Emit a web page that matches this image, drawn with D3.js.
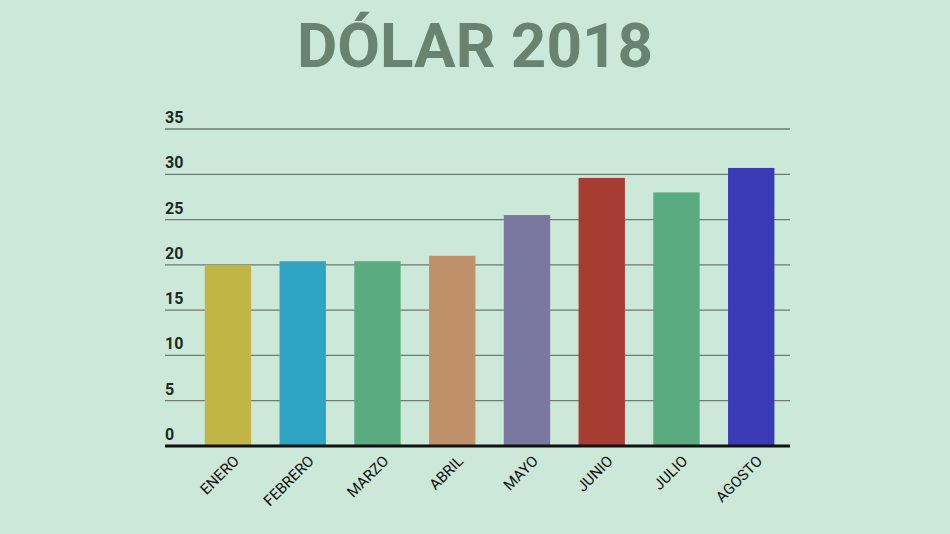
<!DOCTYPE html>
<html><head><meta charset="utf-8">
<script src="https://cdn.jsdelivr.net/npm/d3@7/dist/d3.min.js"></script>
<style>body{margin:0;background:#cce8d8;}svg{display:block}</style>
</head><body>
<script>
const months = ["ENERO","FEBRERO","MARZO","ABRIL","MAYO","JUNIO","JULIO","AGOSTO"];
const values = [20.0,20.4,20.4,21.0,25.5,29.6,28.0,30.7];
const colors = ["#c0b545","#2ea3c2","#5bab80","#c0906a","#7a78a0","#a63c32","#5bab80","#3b3ab7"];
const ticks = [0,5,10,15,20,25,30,35];

const svg = d3.select("body").append("svg").attr("width",950).attr("height",534);
svg.append("rect").attr("width",950).attr("height",534).attr("fill","#cce8d8");
svg.append("text").attr("x",475).attr("y",67).attr("text-anchor","middle")
  .attr("font-family","Roboto").attr("font-weight","bold").attr("font-size",62)
  .attr("fill","#6a8270").text("DÓLAR 2018");

const x = d3.scaleBand().domain(months).range([190.6,788.6]).paddingInner(0.38).paddingOuter(0.19);
const y = d3.scaleLinear().domain([0,35]).range([446,129]);

const g = svg.append("g");
g.selectAll("line.grid").data(ticks.slice(1)).join("line")
  .attr("x1",165).attr("x2",790).attr("y1",d=>y(d)).attr("y2",d=>y(d))
  .attr("stroke","#6b7b70").attr("stroke-width",1.3);
g.selectAll("text.tick").data(ticks).join("text")
  .attr("x",165).attr("y",d=>y(d)-6)
  .attr("font-family","Roboto").attr("font-weight","bold").attr("font-size",16)
  .attr("fill","#1a2a20").text(d=>d);

g.selectAll("rect.bar").data(values).join("rect")
  .attr("x",(d,i)=>x(months[i])).attr("width",x.bandwidth())
  .attr("y",d=>y(d)).attr("height",d=>y(0)-y(d))
  .attr("fill",(d,i)=>colors[i]);

g.append("line").attr("x1",165).attr("x2",790).attr("y1",y(0)).attr("y2",y(0))
  .attr("stroke","#111").attr("stroke-width",3);

g.selectAll("text.lab").data(months).join("text")
  .attr("transform",d=>`translate(${x(d)+x.bandwidth()/2+12},${y(0)+16}) rotate(-45)`)
  .attr("text-anchor","end").attr("font-family","Roboto").attr("font-size",15)
  .attr("fill","#111").text(d=>d);
</script>
</body></html>
